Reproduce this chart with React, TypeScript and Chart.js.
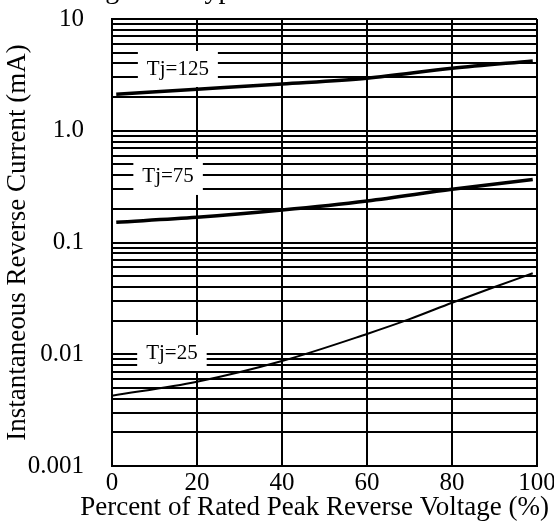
import React, { useEffect, useRef } from "react";
import { Chart, registerables } from "chart.js";

Chart.register(...registerables);

// ---- data ----
const xHot = [1, 20, 40, 60, 80, 99];
const tj125 = [2.12, 2.35, 2.62, 2.95, 3.62, 4.21];
const tj75 = [0.152, 0.168, 0.195, 0.235, 0.299, 0.367];
const xCold = [0, 20, 40, 60, 70, 80, 90, 99];
const tj25 = [0.00426, 0.00568, 0.0087, 0.0152, 0.0206, 0.0289, 0.04, 0.053];

const curveNames = ["Tj=125", "Tj=75", "Tj=25"];
const curveLabelX = [15.5, 13.2, 14.1];
const curveLabelY = [3.57, 0.386, 0.01026];

const xTicks = [0, 20, 40, 60, 80, 100];
const yDecades = [0.001, 0.01, 0.1, 1, 10];
const yDecadeLabels = ["0.001", "0.01", "0.1", "1.0", "10"];
const yMinorSteps = [1, 2, 3, 4, 5, 6, 7, 8, 9];

const chartTitle = "Fig. 4 \u2014 Typical Reverse Characteristics";
const xTitle = "Percent of Rated Peak Reverse Voltage (%)";
const yTitle = "Instantaneous Reverse Current (mA)";

const FONT = "'Liberation Serif', 'Times New Roman', serif";

function toPoints(xs: number[], ys: number[]) {
  return xs.map((x, i) => ({ x, y: ys[i] }));
}

const curveLabelPlugin = {
  id: "curveLabels",
  beforeDatasetsDraw(chart: any) {
    const { ctx, scales } = chart;
    const x = scales.x;
    const y = scales.y;
    ctx.save();
    ctx.font = `21px ${FONT}`;
    curveNames.forEach((t, i) => {
      const cx = x.getPixelForValue(curveLabelX[i]);
      const cy = y.getPixelForValue(curveLabelY[i]);
      const w = ctx.measureText(t).width + 18;
      const h = 36;
      ctx.fillStyle = "#ffffff";
      ctx.fillRect(cx - w / 2, cy - h / 2, w, h);
      ctx.fillStyle = "#000000";
      ctx.textAlign = "center";
      ctx.textBaseline = "middle";
      ctx.fillText(t, cx, cy);
    });
    ctx.restore();
  },
};

const textPlugin = {
  id: "extraText",
  afterDraw(chart: any) {
    const { ctx, chartArea, height } = chart;
    ctx.save();
    ctx.fillStyle = "#000000";
    // chart title, mostly above the visible page (only descenders show)
    ctx.font = `28px ${FONT}`;
    ctx.textAlign = "left";
    ctx.textBaseline = "alphabetic";
    ctx.fillText(chartTitle, 82, -2);
    // x axis title (drawn here so it is not squeezed to the plot width)
    ctx.font = `27px ${FONT}`;
    ctx.textAlign = "right";
    ctx.textBaseline = "middle";
    ctx.fillText(xTitle, chartArea.right + 12, height - 17);
    ctx.restore();
  },
};

export default function App() {
  const ref = useRef<HTMLCanvasElement | null>(null);

  useEffect(() => {
    if (!ref.current) return;
    const yTickValues: number[] = [];
    yDecades.slice(0, -1).forEach((d) => yMinorSteps.forEach((s) => yTickValues.push(d * s)));
    yTickValues.push(yDecades[yDecades.length - 1]);

    const chart = new Chart(ref.current, {
      type: "line",
      data: {
        datasets: [
          {
            label: curveNames[0],
            data: toPoints(xHot, tj125),
            borderColor: "#000",
            borderWidth: 3.5,
            pointRadius: 0,
            cubicInterpolationMode: "monotone",
          },
          {
            label: curveNames[1],
            data: toPoints(xHot, tj75),
            borderColor: "#000",
            borderWidth: 3.5,
            pointRadius: 0,
            cubicInterpolationMode: "monotone",
          },
          {
            label: curveNames[2],
            data: toPoints(xCold, tj25),
            borderColor: "#000",
            borderWidth: 2,
            pointRadius: 0,
            cubicInterpolationMode: "monotone",
          },
        ],
      },
      options: {
        animation: false,
        responsive: true,
        maintainAspectRatio: false,
        layout: { padding: { top: 19, right: 17, left: 0, bottom: 0 } },
        plugins: {
          legend: { display: false },
          tooltip: { enabled: false },
          title: { display: false },
        },
        scales: {
          x: {
            type: "linear",
            min: 0,
            max: 100,
            afterBuildTicks: (s: any) => {
              s.ticks = xTicks.map((v) => ({ value: v }));
            },
            afterFit: (s: any) => {
              s.height = 59;
              s.paddingLeft = 0;
              s.paddingRight = 0;
            },
            ticks: {
              autoSkip: false,
              maxRotation: 0,
              padding: 2,
              color: "#000",
              font: { family: FONT, size: 25 },
            },
            grid: { color: "#000", lineWidth: 2, drawTicks: false },
            border: { color: "#000", width: 2 },
            title: { display: false },
          },
          y: {
            type: "logarithmic",
            min: 0.001,
            max: 10,
            afterBuildTicks: (s: any) => {
              s.ticks = yTickValues.map((v) => ({ value: v }));
            },
            afterFit: (s: any) => {
              s.width = 112;
              s.paddingTop = 0;
              s.paddingBottom = 0;
            },
            ticks: {
              autoSkip: false,
              padding: 28,
              color: "#000",
              font: { family: FONT, size: 25 },
              callback: (v: any) => {
                const i = yDecades.findIndex((d) => Math.abs(Math.log10(d) - Math.log10(Number(v))) < 1e-6);
                return i >= 0 ? yDecadeLabels[i] : "";
              },
            },
            grid: { color: "#000", lineWidth: 2, drawTicks: false },
            border: { color: "#000", width: 2 },
            title: {
              display: true,
              text: yTitle,
              color: "#000",
              font: { family: FONT, size: 27 },
              padding: { top: 2, bottom: 0 },
            },
          },
        },
      },
      plugins: [curveLabelPlugin, textPlugin],
    } as any);
    return () => chart.destroy();
  }, []);

  return (
    <div style={{ position: "absolute", left: 0, top: 0, width: 554, height: 525, background: "#fff" }}>
      <canvas ref={ref} style={{ display: "block" }} />
    </div>
  );
}
